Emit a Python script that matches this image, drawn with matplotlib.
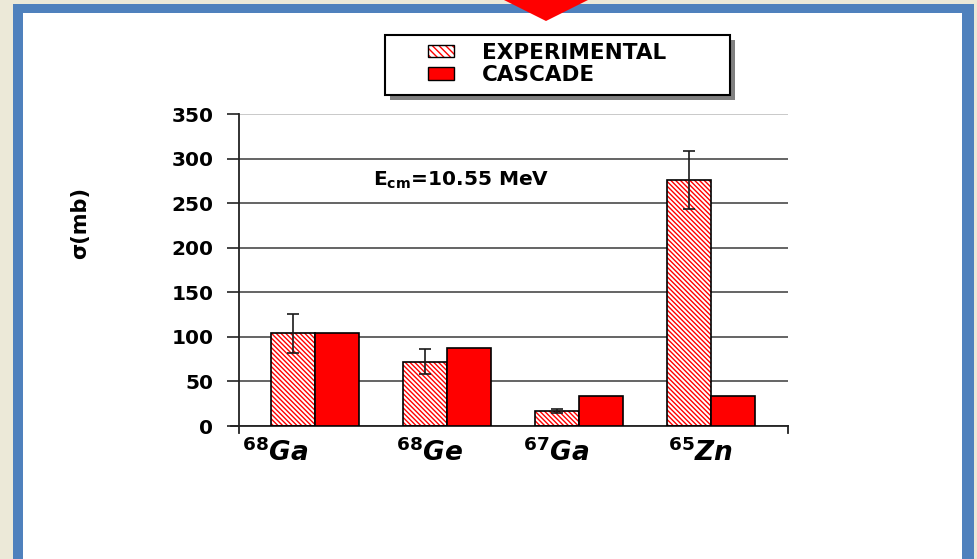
import matplotlib.pyplot as plt
import numpy as np
from matplotlib.patches import Patch, Rectangle, Polygon
from matplotlib.legend_handler import HandlerTuple

mass_numbers = ["68", "68", "67", "65"]
elements = ["Ga", "Ge", "Ga", "Zn"]
experimental = [104, 72, 17, 276]
experimental_err = [22, 14, 2, 33]
cascade = [104, 87, 34, 34]
y_ticks = [0, 50, 100, 150, 200, 250, 300, 350]

plt.rcParams["font.family"] = "DejaVu Sans"
plt.rcParams["hatch.linewidth"] = 1.0
HATCH = "\\" * 7

W, H = 978, 559
fig = plt.figure(figsize=(W / 100, H / 100), dpi=100)
fig.patch.set_facecolor("#ECE9D8")


def px(x, y):
    return x / W, 1 - y / H


# slide frame: blue border with white panel inside
fig.add_artist(Rectangle(px(13, 559), (974 - 13) / W, (559 - 4) / H,
                         transform=fig.transFigure, facecolor="#4F81BD",
                         edgecolor="none", zorder=0))
fig.add_artist(Rectangle(px(23, 559), (962 - 23) / W, (559 - 13) / H,
                         transform=fig.transFigure, facecolor="white",
                         edgecolor="none", zorder=0))
fig.add_artist(Polygon([px(500, -2), px(592, -2), px(546, 21)],
                       transform=fig.transFigure, facecolor="#FF0000",
                       edgecolor="none", zorder=1))

left, right, bottom, top = 239, 788, 426, 114
ax = fig.add_axes([left / W, 1 - bottom / H, (right - left) / W, (bottom - top) / H])
ax.set_facecolor("none")

x = np.arange(len(elements))
w = 0.333

# experimental bars: red hatch on white, black outline drawn on top
ax.bar(x - w / 2, experimental, w, color="white", edgecolor="red",
       hatch=HATCH, linewidth=0, zorder=2)
ax.bar(x - w / 2, experimental, w, fill=False, edgecolor="black",
       linewidth=1.2, zorder=3)
ax.bar(x + w / 2, cascade, w, color="#FF0000", edgecolor="black",
       linewidth=1.2, zorder=3)
ax.errorbar(x - w / 2, experimental, yerr=experimental_err, fmt="none",
            ecolor="#1a1a1a", elinewidth=1.2, capsize=4.6, capthick=1.2,
            zorder=4)

ax.set_xlim(-0.576, 3.583)
ax.set_ylim(0, 350)
ax.set_yticks(y_ticks)
ax.set_yticklabels([str(v) for v in y_ticks], fontsize=14.5, fontweight="bold")
ax.tick_params(axis="y", direction="out", length=8.5, width=1.2, pad=10,
               color="#222222")
ax.yaxis.grid(True, color="#3a3a3a", linewidth=1.1)
ax.yaxis.get_gridlines()[-1].set_color("#bbbbbb")
ax.set_axisbelow(True)

ax.set_xticks([])
for xe in ax.get_xlim():
    ax.plot([xe, xe], [0, -8], color="#222222", lw=1.3, clip_on=False)

for s in ("top", "right"):
    ax.spines[s].set_visible(False)
for s in ("left", "bottom"):
    ax.spines[s].set_color("#222222")
    ax.spines[s].set_linewidth(1.3)
ax.spines["bottom"].set_bounds(-0.64, 3.583)

label_shift = [-0.30, -0.13, -0.17, -0.08]
for i, (m, el) in enumerate(zip(mass_numbers, elements)):
    ax.text(i + label_shift[i], -14, rf"$^{{\mathbf{{{m}}}}}$" + el,
            ha="center", va="top", fontsize=19, fontweight="bold",
            style="italic")

ax.text(1.11, 276, r"E$_{\mathbf{cm}}$=10.55 MeV", ha="center", va="center",
        fontsize=14.5, fontweight="bold")

ax.set_ylabel("σ(mb)", fontsize=15, fontweight="bold")
ax.yaxis.set_label_coords(-0.272, 0.65)

# legend box with drop shadow
fig.add_artist(Rectangle(px(390, 100), (730 - 385) / W, (95 - 35) / H,
                         transform=fig.transFigure, facecolor="#808080",
                         edgecolor="none", zorder=5))
fig.add_artist(Rectangle(px(385, 95), (730 - 385) / W, (95 - 35) / H,
                         transform=fig.transFigure, facecolor="white",
                         edgecolor="black", linewidth=1.5, zorder=6))
exp_handle = (Patch(facecolor="white", edgecolor="red", hatch="\\" * 5, linewidth=0),
              Patch(fill=False, edgecolor="black", linewidth=1.0))
cas_handle = Patch(facecolor="#FF0000", edgecolor="black", linewidth=1.0)
leg = fig.legend([exp_handle, cas_handle], ["EXPERIMENTAL", "CASCADE"],
                 handler_map={tuple: HandlerTuple(ndivide=1, pad=0)},
                 loc="center left", bbox_to_anchor=px(411, 64),
                 frameon=False, prop={"size": 15.5, "weight": "bold"},
                 handlelength=1.2, handleheight=0.5, handletextpad=1.3,
                 labelspacing=0.1, borderpad=0.3)
leg.set_zorder(7)

fig.savefig("out.png", dpi=100, facecolor=fig.get_facecolor())
